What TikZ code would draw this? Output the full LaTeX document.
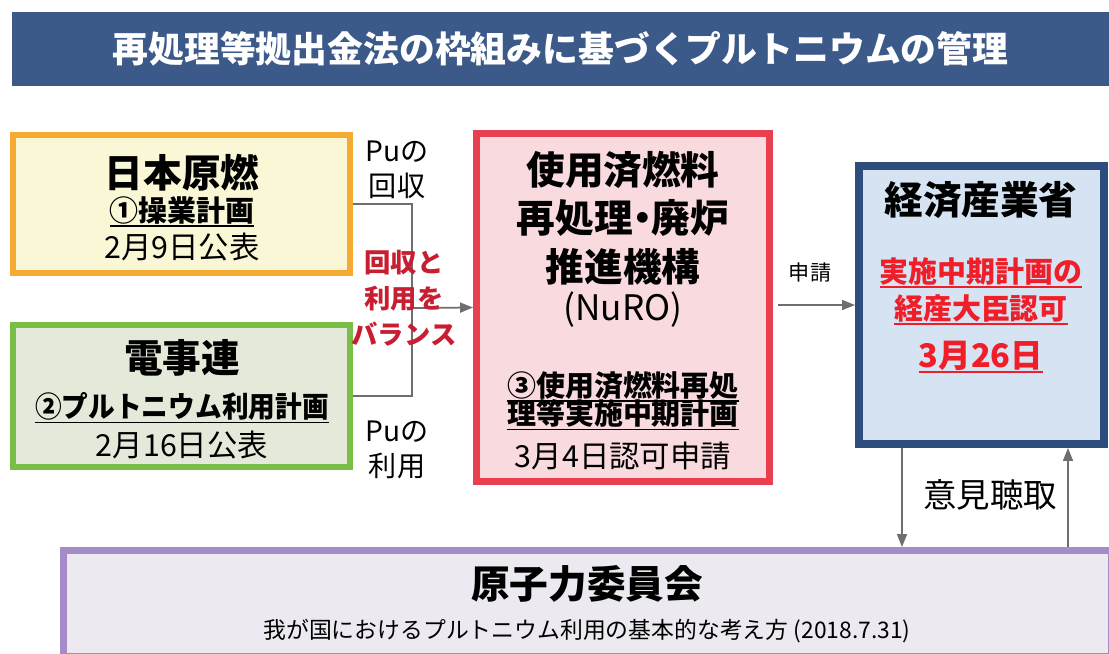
\documentclass[tikz,border=0pt]{standalone}
\usepackage{fontspec}
\setmainfont{Noto Sans CJK JP}
\usetikzlibrary{positioning,arrows.meta}
\definecolor{titleblue}{RGB}{59,89,137}
\definecolor{genline}{RGB}{245,170,50}
\definecolor{genfill}{RGB}{250,247,214}
\definecolor{fepcline}{RGB}{122,190,72}
\definecolor{fepcfill}{RGB}{228,234,218}
\definecolor{nuroline}{RGB}{232,64,80}
\definecolor{nurofill}{RGB}{249,219,223}
\definecolor{metiline}{RGB}{45,78,125}
\definecolor{metifill}{RGB}{213,227,242}
\definecolor{aecline}{RGB}{165,140,200}
\definecolor{aecfill}{RGB}{236,233,240}
\definecolor{balred}{RGB}{200,30,50}
\definecolor{apred}{RGB}{240,30,40}
\definecolor{arrowgray}{RGB}{110,110,110}
\newcommand{\ulbox}[1]{\setbox0=\hbox{#1}\rlap{\vrule height -0.13em depth 0.19em width \wd0}\box0}
\tikzset{
  box/.style={draw, inner sep=0pt},
  hd/.style={font=\fontsize{22}{26}\selectfont\bfseries, inner sep=0pt},
  plan/.style={font=\fontsize{16.5}{20}\selectfont\bfseries, inner sep=0pt},
  dt/.style={font=\fontsize{16}{20}\selectfont, inner sep=0pt},
  date/.style={font=\fontsize{17.3}{20}\selectfont, inner sep=0pt},
  conn/.style={draw=arrowgray, line width=0.035cm},
  arr/.style={conn, -{Triangle[length=0.26cm,width=0.2cm]}},
}

\begin{document}
\begin{tikzpicture}[x=0.02cm,y=-0.02cm]
\useasboundingbox (0,0) rectangle (1109,653);
% title
\node[fill=titleblue, text=white, minimum width=21.94cm, minimum height=1.48cm, inner sep=0pt,
      font=\fontsize{20.4}{24}\selectfont\bfseries] (title) at (560.5,49) {再処理等拠出金法の枠組みに基づくプルトニウムの管理};

% boxes
\node[box, draw=genline, fill=genfill, line width=0.12cm, minimum width=6.74cm, minimum height=2.76cm] (gen) at (181.5,204) {};
\node[box, draw=fepcline, fill=fepcfill, line width=0.12cm, minimum width=6.74cm, minimum height=2.86cm] (fepc) at (181.5,396) {};
\node[box, draw=nuroline, fill=nurofill, line width=0.14cm, minimum width=5.86cm, minimum height=6.96cm] (nuro) at (623,307.5) {};
\node[box, draw=metiline, fill=metifill, line width=0.16cm, minimum width=4.9cm, minimum height=5.56cm] (meti) at (981.5,305) {};
\node[box, draw=aecline, fill=aecfill, line width=0.14cm, minimum width=20.96cm, minimum height=2.12cm] (aec) at (587.5,603.5) {};

% 日本原燃
\node[hd] (genT) at (182,173) {日本原燃};
\node[plan, on grid, below=0.78cm of genT] (genP) {\ulbox{①操業計画}};
\node[date, on grid, below=0.70cm of genP] (genD) {2月9日公表};

% 電事連
\node[hd] (fepcT) at (182,358) {電事連};
\node[plan, on grid, below=1.0cm of fepcT] (fepcP) {\scalebox{0.92}[1]{\ulbox{②プルトニウム利用計画}}};
\node[date, on grid, below=0.74cm of fepcP] (fepcD) {2月16日公表};

% NuRO
\node[hd] (nuroA) at (623,170) {使用済燃料};
\node[hd, on grid, below=0.96cm of nuroA] (nuroB) {再処理\kern-0.25em・\kern-0.25em廃炉};
\node[hd, on grid, below=0.98cm of nuroB] (nuroC) {推進機構};
\node[font=\fontsize{20}{24}\selectfont, inner sep=0pt, on grid, below=0.86cm of nuroC] (nuroD) {(NuRO)};
\node[plan, on grid, below=1.54cm of nuroD] (nuroP) {\ulbox{③使用済燃料再処}};
\node[plan, on grid, below=0.56cm of nuroP] (nuroQ) {\ulbox{理等実施中期計画}};
\node[date, on grid, below=0.82cm of nuroQ] (nuroR) {3月4日認可申請};

% 経済産業省
\node[hd] (metiT) at (981,200) {経済産業省};
\node[plan, text=apred, on grid, below=1.46cm of metiT] (metiA) {\ulbox{実施中期計画の}};
\node[plan, text=apred, on grid, below=0.74cm of metiA] (metiB) {\ulbox{経産大臣認可}};
\node[plan, text=apred, font=\fontsize{18.5}{22}\selectfont\bfseries, on grid, below=0.94cm of metiB] (metiC) {\ulbox{3月26日}};

% 原子力委員会
\node[hd] (aecT) at (587,584) {原子力委員会};
\node[font=\fontsize{13}{16}\selectfont, inner sep=0pt, on grid, below=0.94cm of aecT] (aecS) {我が国におけるプルトニウム利用の基本的な考え方 (2018.7.31)};

% connectors
\coordinate (jn) at (412,308);
\draw[conn] (gen.east) -| (jn) |- (fepc.east);
\draw[arr] (jn) -- (nuro.west);
\draw[arr, shorten <=0.1cm] (nuro.east |- meti.west) -- (meti.west);
\coordinate (dn) at (902,0);
\coordinate (up) at (1068,0);
\draw[arr] (meti.south -| dn) -- (aec.north -| dn);
\draw[arr] (aec.north -| up) -- (meti.south -| up);

% labels
\node[dt, align=center] (puRec) at (397,170) {Puの\\回収};
\node[dt, align=center] (puUse) at (397,450) {Puの\\利用};
\node[font=\fontsize{15}{20.5}\selectfont\bfseries, text=balred, align=center, inner sep=0pt] (bal) at (404,298) {回収と\\利用を\\バランス};
\node[font=\fontsize{12}{14}\selectfont, inner sep=0pt] (apply) at (810,272) {申請};
\node[font=\fontsize{19}{22}\selectfont, inner sep=0pt] (hear) at (990,495) {意見聴取};
\end{tikzpicture}
\end{document}
